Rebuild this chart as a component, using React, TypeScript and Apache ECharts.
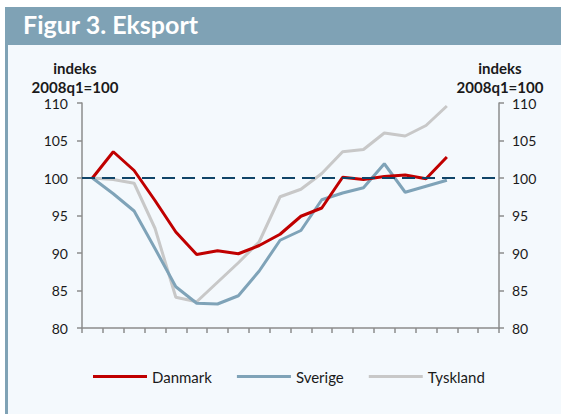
import React, { useEffect, useRef } from "react";
import * as echarts from "echarts";

const categories = [
  "2008q1", "2008q2", "2008q3", "2008q4",
  "2009q1", "2009q2", "2009q3", "2009q4",
  "2010q1", "2010q2", "2010q3", "2010q4",
  "2011q1", "2011q2", "2011q3", "2011q4",
  "2012q1", "2012q2", "2012q3", "2012q4",
];
const danmark = [100, 103.5, 101.0, 97.0, 92.8, 89.8, 90.3, 89.9, 91.0, 92.5, 94.9, 96.0, 100.1, 99.8, 100.2, 100.4, 99.9, 102.8];
const sverige = [100, 97.9, 95.6, 90.6, 85.5, 83.3, 83.2, 84.3, 87.6, 91.7, 93.0, 97.1, 98.0, 98.7, 101.9, 98.1, 98.9, 99.7];
const tyskland = [100, 99.8, 99.3, 93.3, 84.1, 83.5, 86.1, 88.7, 91.5, 97.5, 98.5, 100.6, 103.5, 103.8, 106.0, 105.6, 107.0, 109.6];
const seriesNames = ["Danmark", "Sverige", "Tyskland"];
const title = "Figur 3. Eksport";
const axisTitle = ["indeks", "2008q1=100"];
const baseline = 100;

const FONT = "Lato, 'Noto Sans', sans-serif";
const AXIS_GRAY = "#8c8c8c";

export default function App() {
  const ref = useRef<HTMLDivElement>(null);
  useEffect(() => {
    if (!ref.current) return;
    const chart = echarts.init(ref.current, undefined, { renderer: "svg" });
    const yAxisCommon = {
      type: "value",
      min: 80,
      max: 110,
      interval: 5,
      splitLine: { show: false },
      axisLine: { show: true, lineStyle: { color: AXIS_GRAY, width: 1.5 } },
      axisTick: { show: true, length: 5, lineStyle: { color: AXIS_GRAY, width: 1.5 } },
      axisLabel: { color: "#1a1a1a", fontSize: 14, fontFamily: FONT },
    };
    const axisTitleStyle = { fill: "#1a1a1a", font: `bold 15px ${FONT}`, align: "center", verticalAlign: "middle" };
    chart.setOption({
      animation: false,
      backgroundColor: "#ffffff",
      textStyle: { fontFamily: FONT },
      graphic: [
        { type: "rect", shape: { x: 5, y: 7, width: 556, height: 38 }, style: { fill: "#7fa2b5" } },
        { type: "rect", shape: { x: 5, y: 45, width: 556, height: 369 }, style: { fill: "#f4f9fd" } },
        { type: "rect", shape: { x: 5, y: 45, width: 3, height: 369 }, style: { fill: "#7fa2b5" } },
        {
          type: "text", left: 23, top: 11,
          style: { text: title, fill: "#ffffff", font: `bold 25px ${FONT}` },
        },
        { type: "text", x: 75, y: 68, style: { text: axisTitle[0], ...axisTitleStyle } },
        { type: "text", x: 75, y: 87, style: { text: axisTitle[1], ...axisTitleStyle } },
        { type: "text", x: 500, y: 68, style: { text: axisTitle[0], ...axisTitleStyle } },
        { type: "text", x: 500, y: 87, style: { text: axisTitle[1], ...axisTitleStyle } },
      ],
      grid: { left: 82, right: 62, top: 103, bottom: 86, containLabel: false },
      legend: {
        data: seriesNames,
        left: 93,
        top: 369,
        padding: 0,
        icon: "rect",
        itemWidth: 54,
        itemHeight: 3,
        itemGap: 25,
        textStyle: { color: "#1a1a1a", fontSize: 15, fontFamily: FONT },
      },
      xAxis: {
        type: "category",
        data: categories,
        boundaryGap: true,
        axisLine: { show: true, lineStyle: { color: AXIS_GRAY, width: 1.5 } },
        axisTick: { show: true, length: 5, alignWithLabel: false, interval: 0, lineStyle: { color: AXIS_GRAY, width: 1.5 } },
        axisLabel: { show: false },
        splitLine: { show: false },
      },
      yAxis: [
        { ...yAxisCommon, position: "left", axisLabel: { ...yAxisCommon.axisLabel, margin: 14 } },
        { ...yAxisCommon, position: "right", axisLabel: { ...yAxisCommon.axisLabel, margin: 13 } },
      ],
      series: [
        {
          name: seriesNames[0], type: "line", data: danmark, symbol: "none",
          lineStyle: { color: "#c00000", width: 3 }, itemStyle: { color: "#c00000" }, z: 4,
        },
        {
          name: seriesNames[1], type: "line", data: sverige, symbol: "none",
          lineStyle: { color: "#7fa3b8", width: 3 }, itemStyle: { color: "#7fa3b8" }, z: 3,
        },
        {
          name: seriesNames[2], type: "line", data: tyskland, symbol: "none",
          lineStyle: { color: "#c8c8c8", width: 3 }, itemStyle: { color: "#c8c8c8" }, z: 2,
        },
        {
          name: "baseline", type: "line", data: [], symbol: "none", z: 10,
          markLine: {
            silent: true, symbol: "none", label: { show: false },
            lineStyle: { color: "#0f4468", width: 2, type: [13, 7] },
            data: [{ yAxis: baseline }],
          },
        },
      ],
    });
    return () => chart.dispose();
  }, []);
  return <div ref={ref} style={{ width: 561, height: 414, position: "absolute", left: 0, top: 0 }} />;
}
